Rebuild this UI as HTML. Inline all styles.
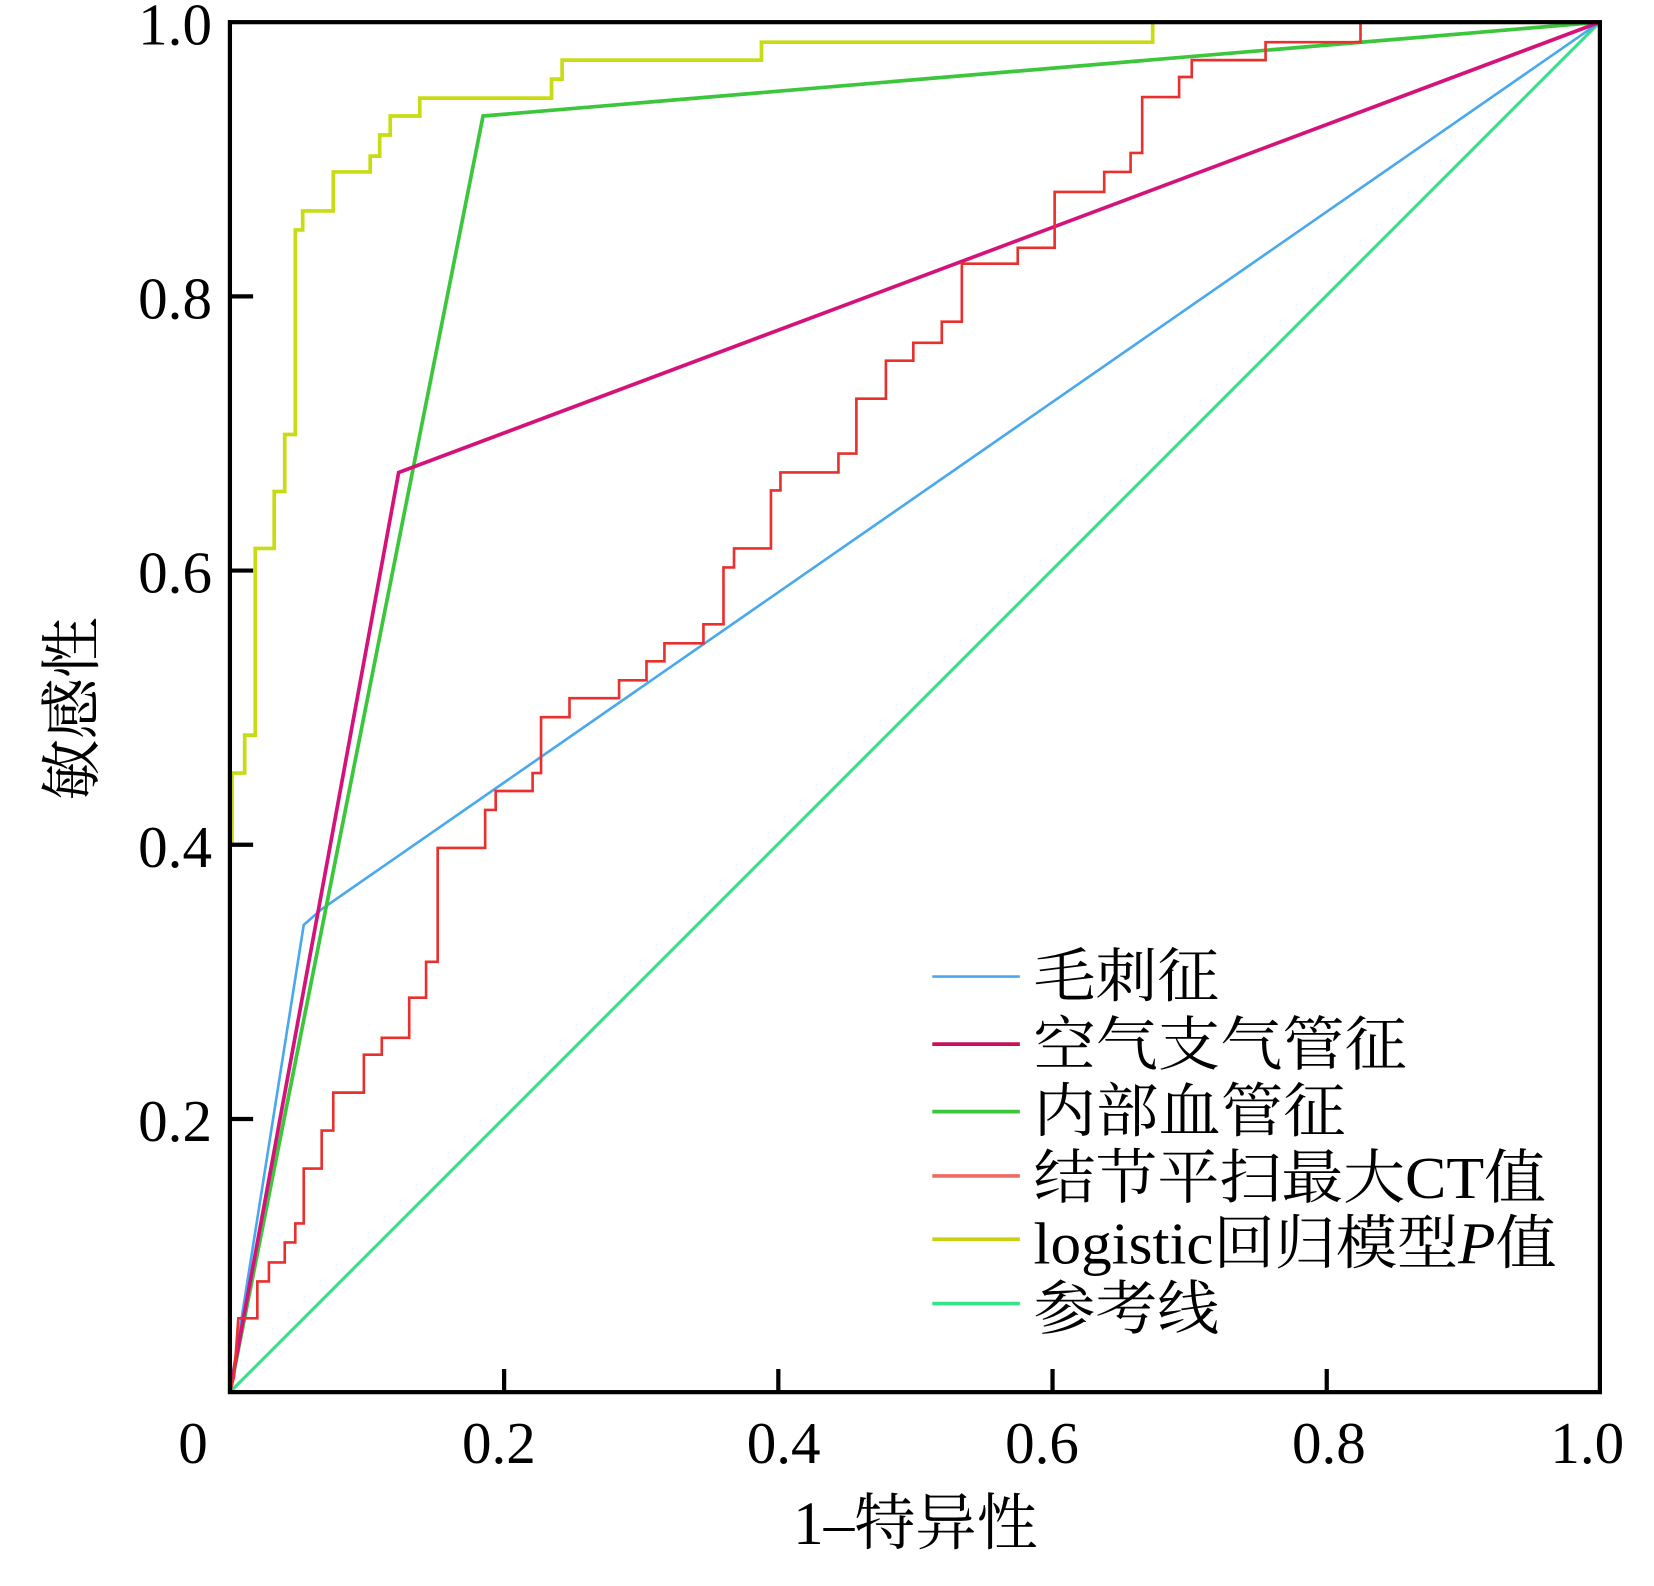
<!DOCTYPE html>
<html><head><meta charset="utf-8"><style>html,body{margin:0;padding:0;background:#fff}svg{display:block}</style></head>
<body>
<svg width="1654" height="1586" viewBox="0 0 1568.3 1503.8" xmlns="http://www.w3.org/2000/svg" font-family="Liberation Serif, Noto Serif CJK SC, serif">
<rect width="1568.3" height="1503.8" fill="#fff"/>
<g fill="none" stroke-linejoin="miter">
<polyline stroke="#33e38a" stroke-width="3" points="218,1320 1517,21"/>
<polyline stroke="#4aa8ee" stroke-width="2.5" points="218,1320 288,877 305,862 1517,21"/>
<polyline stroke="#3cc63c" stroke-width="3.5" points="218,1320 458,110 1517,21"/>
<polyline stroke="#d4137a" stroke-width="3.5" points="218,1320 378,448 1517,21"/>
<polyline stroke="#e8302e" stroke-width="2.5" points="218,1320 222,1305 226,1250 244,1250 244,1215 255,1215 255,1197 270,1197 270,1178 280,1178 280,1160 288,1160 288,1108 305,1108 305,1072 316,1072 316,1036 345,1036 345,1000 362,1000 362,984 388,984 388,946 404,946 404,912 415,912 415,804 460,804 460,768 470,768 470,750 505,750 505,733 513,733 513,680 540,680 540,662 587,662 587,645 613,645 613,627 630,627 630,610 667,610 667,592 686,592 686,538 696,538 696,520 731,520 731,465 740,465 740,448 795,448 795,430 812,430 812,378 840,378 840,342 866,342 866,325 893,325 893,305 912,305 912,250 965,250 965,235 1000,235 1000,182 1047,182 1047,163 1072,163 1072,145 1083,145 1083,92 1118,92 1118,73 1130,73 1130,57 1200,57 1200,40 1290,40 1290,21 1517,21"/>
<polyline stroke="#c8dc14" stroke-width="3.5" points="220,800 220,733 232,733 232,697 242,697 242,520 260,520 260,466 270,466 270,412 280,412 280,218 287,218 287,200 316,200 316,163 351,163 351,148 360,148 360,128 370,128 370,110 398,110 398,93 523,93 523,75 533,75 533,57 722,57 722,40 1093,40 1093,21 1517,21"/>
</g>
<g stroke="#000" stroke-width="4" fill="none">
<rect x="218" y="21" width="1299" height="1299"/>
<path d="M218 281h22M218 541h22M218 801h22M218 1061h22M478 1320v-22M738 1320v-22M998 1320v-22M1258 1320v-22"/>
</g>
<g font-size="56" fill="#000">
<g text-anchor="end"><text x="201" y="42">1.0</text><text x="201" y="302">0.8</text><text x="201" y="562">0.6</text><text x="201" y="822">0.4</text><text x="201" y="1082">0.2</text></g>
<g text-anchor="middle"><text x="183" y="1387">0</text><text x="473" y="1387">0.2</text><text x="743" y="1387">0.4</text><text x="988" y="1387">0.6</text><text x="1260" y="1387">0.8</text><text x="1505" y="1387">1.0</text></g>
<text x="868" y="1464" text-anchor="middle" font-size="58">1–特异性</text>
<text transform="translate(88,672) rotate(-90)" text-anchor="middle" font-size="58">敏感性</text>
</g>
<g stroke-width="3.5">
<line x1="884" y1="926" x2="967" y2="926" stroke="#4aa8ee" stroke-width="2.5"/>
<line x1="884" y1="990" x2="967" y2="990" stroke="#c8105e"/>
<line x1="884" y1="1054" x2="967" y2="1054" stroke="#3cc63c"/>
<line x1="884" y1="1115" x2="967" y2="1115" stroke="#ee6a64"/>
<line x1="884" y1="1175" x2="967" y2="1175" stroke="#c8d010"/>
<line x1="884" y1="1236" x2="967" y2="1236" stroke="#33e38a"/>
</g>
<g font-size="56" fill="#000">
<text x="980" y="945" textLength="176" lengthAdjust="spacingAndGlyphs">毛刺征</text>
<text x="980" y="1010" textLength="354" lengthAdjust="spacingAndGlyphs">空气支气管征</text>
<text x="980" y="1073" textLength="296" lengthAdjust="spacingAndGlyphs">内部血管征</text>
<text x="980" y="1136" textLength="486" lengthAdjust="spacingAndGlyphs">结节平扫最大CT值</text>
<text x="980" y="1198" textLength="496" lengthAdjust="spacingAndGlyphs">logistic回归模型<tspan font-style="italic">P</tspan>值</text>
<text x="980" y="1260" textLength="176" lengthAdjust="spacingAndGlyphs">参考线</text>
</g>
</svg>
</body></html>
